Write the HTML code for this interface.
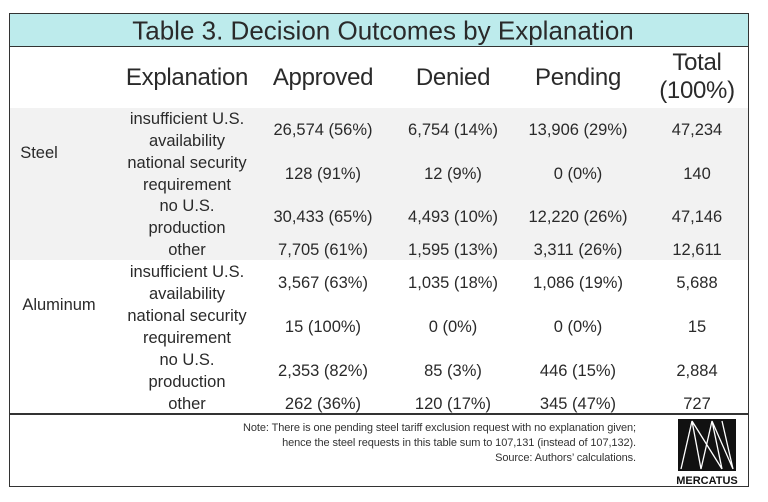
<!DOCTYPE html>
<html><head><style>
body{margin:0;width:768px;height:502px;background:#fff;font-family:"Liberation Sans",sans-serif;color:#2a2a2a;position:relative;overflow:hidden}
.box{position:absolute;left:9px;top:13px;width:740px;height:474px;border:1.5px solid #333;box-sizing:border-box}
.a{position:absolute;white-space:nowrap;transform:translate(-50%,-50%);text-align:center}
.t{font-size:16.5px;line-height:22px}
.h{font-size:24px;letter-spacing:-0.3px}
</style></head><body>
<div class="box"></div>
<div style="position:absolute;left:10px;top:14px;width:738px;height:32px;background:#bdebec;border-bottom:1.5px solid #333"></div>
<div class="a" style="left:383px;top:31px;font-size:26px;letter-spacing:0px">Table 3. Decision Outcomes by Explanation</div>
<div style="position:absolute;left:10px;top:108px;width:738px;height:152px;background:#f2f2f2"></div>
<div style="position:absolute;left:10px;top:413px;width:738px;height:1.5px;background:#333"></div>
<div class="a h" style="left:187px;top:78px">Explanation</div>
<div class="a h" style="left:323px;top:78px">Approved</div>
<div class="a h" style="left:453px;top:78px">Denied</div>
<div class="a h" style="left:578px;top:78px">Pending</div>
<div class="a h" style="left:697px;top:77px;line-height:28px">Total<br>(100%)</div>
<div class="a t" style="left:39px;top:153px">Steel</div>
<div class="a t" style="left:59px;top:305px">Aluminum</div>
<div class="a t" style="left:187px;top:130px">insufficient U.S.<br>availability</div>
<div class="a t" style="left:187px;top:174px">national security<br>requirement</div>
<div class="a t" style="left:187px;top:217px">no U.S.<br>production</div>
<div class="a t" style="left:187px;top:250px">other</div>
<div class="a t" style="left:187px;top:283px">insufficient U.S.<br>availability</div>
<div class="a t" style="left:187px;top:327px">national security<br>requirement</div>
<div class="a t" style="left:187px;top:371px">no U.S.<br>production</div>
<div class="a t" style="left:187px;top:404px">other</div>

<div class="a t" style="left:323px;top:130px">26,574 (56%)</div>
<div class="a t" style="left:453px;top:130px">6,754 (14%)</div>
<div class="a t" style="left:578px;top:130px">13,906 (29%)</div>
<div class="a t" style="left:697px;top:130px">47,234</div>
<div class="a t" style="left:323px;top:174px">128 (91%)</div>
<div class="a t" style="left:453px;top:174px">12 (9%)</div>
<div class="a t" style="left:578px;top:174px">0 (0%)</div>
<div class="a t" style="left:697px;top:174px">140</div>
<div class="a t" style="left:323px;top:217px">30,433 (65%)</div>
<div class="a t" style="left:453px;top:217px">4,493 (10%)</div>
<div class="a t" style="left:578px;top:217px">12,220 (26%)</div>
<div class="a t" style="left:697px;top:217px">47,146</div>
<div class="a t" style="left:323px;top:250px">7,705 (61%)</div>
<div class="a t" style="left:453px;top:250px">1,595 (13%)</div>
<div class="a t" style="left:578px;top:250px">3,311 (26%)</div>
<div class="a t" style="left:697px;top:250px">12,611</div>
<div class="a t" style="left:323px;top:283px">3,567 (63%)</div>
<div class="a t" style="left:453px;top:283px">1,035 (18%)</div>
<div class="a t" style="left:578px;top:283px">1,086 (19%)</div>
<div class="a t" style="left:697px;top:283px">5,688</div>
<div class="a t" style="left:323px;top:327px">15 (100%)</div>
<div class="a t" style="left:453px;top:327px">0 (0%)</div>
<div class="a t" style="left:578px;top:327px">0 (0%)</div>
<div class="a t" style="left:697px;top:327px">15</div>
<div class="a t" style="left:323px;top:371px">2,353 (82%)</div>
<div class="a t" style="left:453px;top:371px">85 (3%)</div>
<div class="a t" style="left:578px;top:371px">446 (15%)</div>
<div class="a t" style="left:697px;top:371px">2,884</div>
<div class="a t" style="left:323px;top:404px">262 (36%)</div>
<div class="a t" style="left:453px;top:404px">120 (17%)</div>
<div class="a t" style="left:578px;top:404px">345 (47%)</div>
<div class="a t" style="left:697px;top:404px">727</div>

<div style="position:absolute;right:132px;top:421px;font-size:11px;line-height:15px;text-align:right;color:#333;white-space:nowrap;letter-spacing:-0.1px">Note: There is one pending steel tariff exclusion request with no explanation given;<br>hence the steel requests in this table sum to 107,131 (instead of 107,132).<br>Source: Authors’ calculations.</div>
<svg style="position:absolute;left:678px;top:419px" width="58" height="52" viewBox="0 0 58 52">
<rect width="58" height="52" fill="#111"/>
<path d="M3 50 L14 2 L23 50 M23 50 L34 2 L44 50 M14 2 L44 50 M34 2 L55 50 M44 2 L55 50" stroke="#fff" stroke-width="1.3" fill="none"/>
</svg>
<div class="a" style="left:707px;top:481px;font-size:11px;font-weight:bold;color:#111">MERCATUS</div>
</body></html>
